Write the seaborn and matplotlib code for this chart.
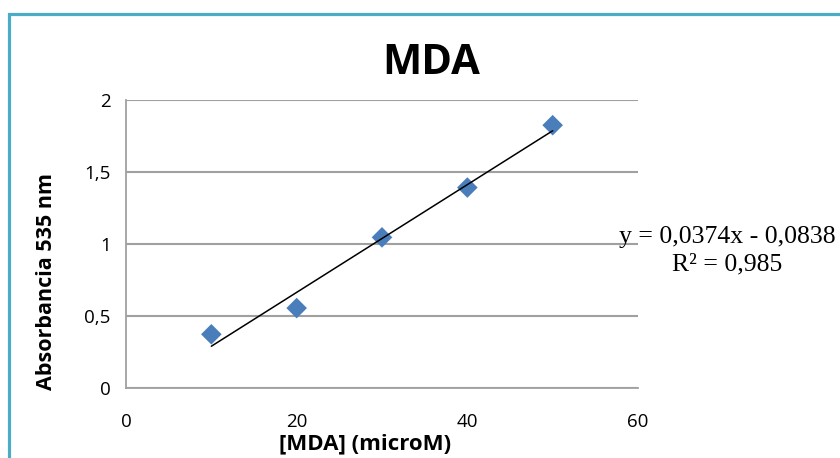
import numpy as np
import pandas as pd
import matplotlib
matplotlib.use("Agg")
import matplotlib.pyplot as plt
import seaborn as sns
from matplotlib.patches import Rectangle

# ---- data ----
mda_conc = [10, 20, 30, 40, 50]
absorbance = [0.373, 0.555, 1.046, 1.392, 1.825]
x_ticks = [0, 20, 40, 60]
x_tick_labels = ["0", "20", "40", "60"]
y_ticks = [0, 0.5, 1, 1.5, 2]
y_tick_labels = ["0", "0,5", "1", "1,5", "2"]
title = "MDA"
x_label = "[MDA] (microM)"
y_label = "Absorbancia 535 nm"
eq_lines = ["y = 0,0374x - 0,0838", "R² = 0,985"]

df = pd.DataFrame({"x": mda_conc, "y": absorbance})

sns.set_theme(style="white")
plt.rcParams["font.family"] = ["Open Sans", "DejaVu Sans"]
plt.rcParams["text.color"] = "black"
plt.rcParams["axes.labelcolor"] = "black"

fig = plt.figure(figsize=(8.4, 4.58), dpi=100)
ax = fig.add_axes([126 / 840, 70 / 458, 512 / 840, 288 / 458])

grid_c = "#a0a0a0"
sns.regplot(data=df, x="x", y="y", ax=ax, ci=None, marker="D",
            scatter_kws=dict(s=110, color="#4a7ebb", alpha=1, edgecolors="none", zorder=3),
            line_kws=dict(color="black", lw=1.1, zorder=4))

ax.set_xlim(0, 60)
ax.set_ylim(0, 2)
ax.set_xticks(x_ticks)
ax.set_xticklabels(x_tick_labels, fontsize=13.5)
ax.set_yticks(y_ticks)
ax.set_yticklabels(y_tick_labels, fontsize=13.5)
ax.yaxis.grid(True, color=grid_c, lw=1.5)
ax.set_axisbelow(True)
for s in ["top", "right"]:
    ax.spines[s].set_visible(False)
for s in ["left", "bottom"]:
    ax.spines[s].set_color(grid_c)
    ax.spines[s].set_linewidth(1.3)
ax.tick_params(axis="both", direction="out", length=6, width=1.3, color=grid_c,
               labelcolor="black")
ax.tick_params(axis="x", pad=12)
ax.tick_params(axis="y", pad=5)

ax.set_xlabel(x_label, fontsize=16, fontweight="bold", color="black")
ax.xaxis.set_label_coords(365 / 840, 1 - 444 / 458, transform=fig.transFigure)
ax.xaxis.label.set_va("center")
ax.set_ylabel(y_label, fontsize=15.5, fontweight="bold", color="black")
ax.yaxis.set_label_coords(47 / 840, 1 - 281 / 458, transform=fig.transFigure)
ax.yaxis.label.set_va("center")

fig.text(431 / 840, 1 - 64 / 458, title, fontsize=30, fontweight="bold",
         ha="center", va="center", color="black")

fig.text(727 / 840, 1 - 237 / 458, eq_lines[0], family="Liberation Serif",
         fontsize=18.5, ha="center", va="center", color="black")
fig.text(727 / 840, 1 - 264 / 458, eq_lines[1], family="Liberation Serif",
         fontsize=18.5, ha="center", va="center", color="black")

# outer frame (cropped on the right and bottom)
frame = Rectangle((9 / 840, -0.1), 1.2, 1 - 14 / 458 + 0.1, transform=fig.transFigure,
                  fill=False, edgecolor="#4bacc6", lw=2.3, zorder=10)
fig.patches.append(frame)

fig.savefig("out.png", dpi=100)
